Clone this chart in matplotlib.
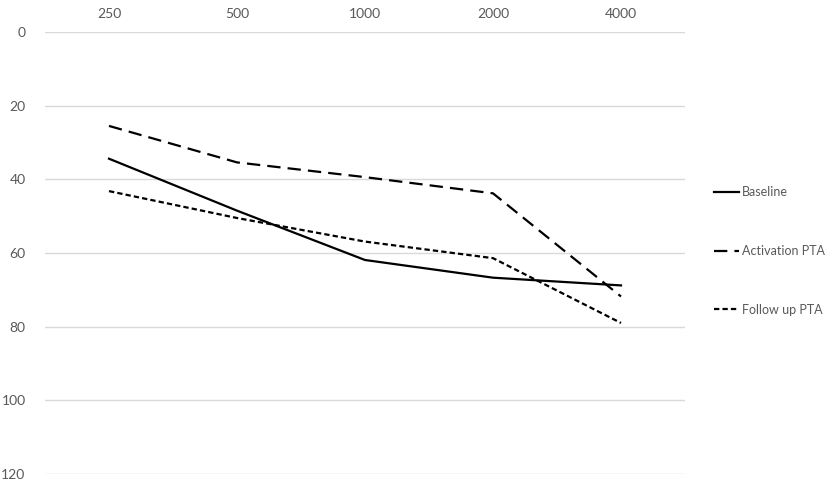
import matplotlib
matplotlib.use("Agg")
import matplotlib.pyplot as plt
import numpy as np

frequencies = ["250", "500", "1000", "2000", "4000"]
baseline = [34.4, 48.5, 61.9, 66.7, 68.8]
activation_pta = [25.5, 35.4, 39.4, 43.8, 71.8]
follow_up_pta = [43.2, 50.5, 56.9, 61.4, 79.0]
y_ticks = [0, 20, 40, 60, 80, 100, 120]

plt.rcParams['font.family'] = ['Lato', 'DejaVu Sans']

fig = plt.figure(figsize=(8.29, 4.83), dpi=100)
ax = fig.add_axes([45/829, 1-474/483, 640/829, 442/483])

x = np.arange(len(frequencies))
ax.plot(x, baseline, color='black', lw=1.6, label='Baseline', solid_joinstyle='miter')
ax.plot(x, activation_pta, color='black', lw=1.6, dashes=(6.0, 3.2), label='Activation PTA')
ax.plot(x, follow_up_pta, color='black', lw=1.6, dashes=(2.4, 1.4), label='Follow up PTA')

ax.set_xlim(-0.5, len(frequencies) - 0.5)
ax.set_ylim(120, 0)
ax.set_yticks(y_ticks)
ax.set_xticks(x)
ax.set_xticklabels(frequencies)
ax.xaxis.tick_top()
ax.tick_params(axis='both', length=0, labelsize=10, colors='#595959')
ax.tick_params(axis='x', pad=9)
ax.tick_params(axis='y', pad=14)
ax.grid(axis='y', color='#d9d9d9', lw=1)
ax.set_axisbelow(True)
for s in ax.spines.values():
    s.set_visible(False)

leg = ax.legend(loc='upper left', bbox_to_anchor=(714/829, 1-186/483), bbox_transform=fig.transFigure,
                frameon=False, fontsize=9, labelspacing=3.75, handlelength=2.0, handletextpad=0.2,
                borderpad=0, borderaxespad=0)
for t in leg.get_texts():
    t.set_color('#595959')

fig.savefig('out.png', dpi=100)
